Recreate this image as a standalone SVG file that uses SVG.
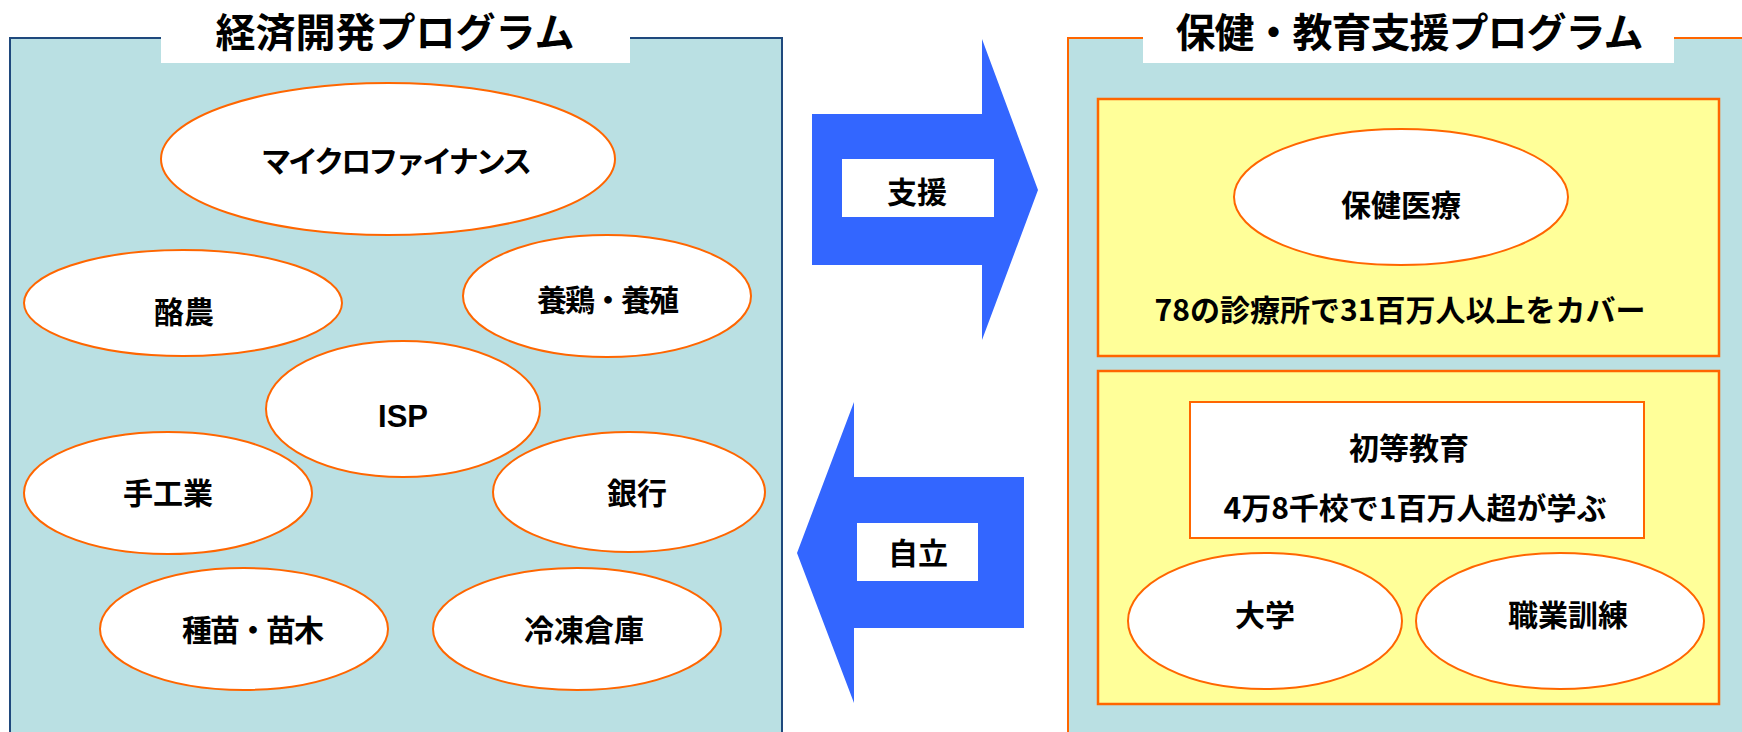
<svg xmlns="http://www.w3.org/2000/svg" width="1742" height="732" viewBox="0 0 1742 732">
<style>
.panel{fill:#BAE0E3;stroke-width:2}
.ell{fill:#FFFFFF;stroke:#FF6600;stroke-width:2}
.ybox{fill:#FFFF99;stroke:#FF6600;stroke-width:2.5}
.wbox{fill:#FFFFFF;stroke:#FF6600;stroke-width:2}
.arrow{fill:#3366FF}
text{font-family:"Noto Sans CJK JP","Liberation Sans",sans-serif;font-weight:bold;fill:#000;text-anchor:middle}
.t{font-size:40px}
.l{font-size:30px}
.lat{font-family:"Liberation Sans",Arial,sans-serif;font-size:31px}
.dot{letter-spacing:-2px}
</style>
<rect width="1742" height="732" fill="#FFFFFF"/>
<g id="economic-program">
<rect class="panel" x="10" y="38" width="772" height="720" stroke="#1F497D"/>
<rect x="161" y="0" width="469" height="63" fill="#FFFFFF"/>
<text class="t" x="395" y="47">経済開発プログラム</text>
</g>
<g id="microfinance"><ellipse class="ell" cx="388" cy="159" rx="227" ry="76"/><text class="l" x="395" y="172" letter-spacing="-3">マイクロファイナンス</text></g>
<g id="dairy"><ellipse class="ell" cx="183" cy="303" rx="159" ry="53"/><text class="l" x="184" y="323">酪農</text></g>
<g id="poultry"><ellipse class="ell" cx="607" cy="296" rx="144" ry="61"/><text class="l dot" x="607" y="311">養鶏・養殖</text></g>
<g id="isp"><ellipse class="ell" cx="403" cy="409" rx="137" ry="68"/><text class="l lat" x="403" y="427">ISP</text></g>
<g id="handicraft"><ellipse class="ell" cx="168" cy="493" rx="144" ry="61"/><text class="l" x="168" y="504">手工業</text></g>
<g id="bank"><ellipse class="ell" cx="629" cy="492" rx="136" ry="60"/><text class="l" x="637" y="504">銀行</text></g>
<g id="seedlings"><ellipse class="ell" cx="244" cy="629" rx="144" ry="61"/><text class="l dot" x="252" y="641">種苗・苗木</text></g>
<g id="cold-storage"><ellipse class="ell" cx="577" cy="629" rx="144" ry="61"/><text class="l" x="584" y="641">冷凍倉庫</text></g>

<g id="connectors">
<g id="arrow-support">
<polygon class="arrow" points="812,114 982,114 982,39 1038,190 982,340 982,265 812,265"/>
<rect x="842" y="159" width="152" height="58" fill="#FFFFFF"/>
<text class="l" x="917" y="203">支援</text>
</g>
<g id="arrow-independence">
<polygon class="arrow" points="1024,477 854,477 854,402 797,553 854,703 854,628 1024,628"/>
<rect x="857" y="523" width="121" height="58" fill="#FFFFFF"/>
<text class="l" x="918" y="564">自立</text>
</g>
</g>

<g id="health-education-program">
<rect class="panel" x="1068" y="38" width="700" height="720" stroke="#FF6600"/>
<rect x="1143" y="0" width="531" height="63" fill="#FFFFFF"/>
<text class="t" x="1409" y="47" letter-spacing="-1">保健・教育支援プログラム</text>
</g>
<g id="health-box">
<rect class="ybox" x="1098" y="99" width="621" height="257"/>
<text class="l" x="1400" y="321">78の診療所で31百万人以上をカバー</text>
</g>
<g id="health-care"><ellipse class="ell" cx="1401" cy="197" rx="167" ry="68"/><text class="l" x="1401" y="216">保健医療</text></g>
<g id="education-box">
<rect class="ybox" x="1098" y="371" width="621" height="333"/>
</g>
<g id="primary-education">
<rect class="wbox" x="1190" y="402" width="454" height="136"/>
<text class="l" x="1409" y="459">初等教育</text>
<text class="l" x="1415" y="519">4万8千校で1百万人超が学ぶ</text>
</g>
<g id="university"><ellipse class="ell" cx="1265" cy="621" rx="137" ry="68"/><text class="l" x="1265" y="626">大学</text></g>
<g id="vocational"><ellipse class="ell" cx="1560" cy="621" rx="144" ry="68"/><text class="l" x="1568" y="626">職業訓練</text></g>
</svg>
